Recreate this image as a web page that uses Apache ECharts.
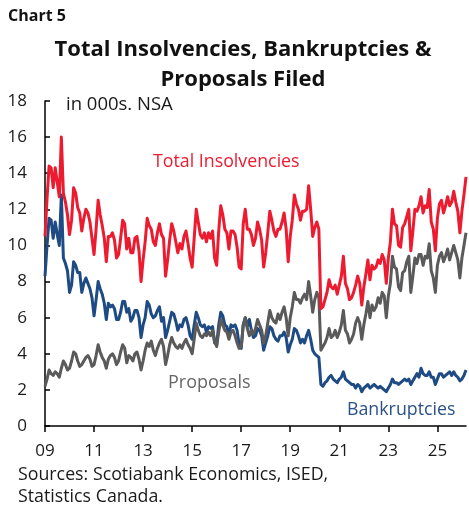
<!DOCTYPE html>
<html>
<head>
<meta charset="utf-8">
<title>Total Insolvencies, Bankruptcies &amp; Proposals Filed</title>
<script src="https://cdn.jsdelivr.net/npm/echarts@6.0.0/dist/echarts.min.js"></script>
<style>
  html, body { margin: 0; padding: 0; background: #ffffff; }
  #chart { width: 469px; height: 510px; }
</style>
</head>
<body>
<div id="chart"></div>
<script>
// Monthly series, thousands of filings, not seasonally adjusted.
// One row per calendar year (Jan..Dec), starting January 2009.
const START_YEAR = 2009;

const totalInsolvencies = [
  10.5, 12.6, 14.4, 14.3, 13.2, 14.3, 13.5, 12.7, 16.0, 12.9, 12.4, 11.7,
  10.6, 11.4, 13.2, 12.9, 12.1, 11.8, 10.8, 11.5, 12.0, 11.8, 11.3, 10.4,
  9.5, 10.9, 12.5, 11.7, 11.1, 10.4, 9.1, 10.5, 10.5, 10.7, 10.3, 9.3,
  9.5, 10.4, 11.4, 11.2, 9.8, 10.4, 9.6, 9.6, 10.4, 10.5, 9.7, 8.0,
  9.2, 10.2, 11.5, 11.1, 10.9, 10.2, 10.0, 10.7, 11.2, 10.6, 10.4, 8.3,
  9.2, 10.3, 11.2, 10.8, 10.2, 9.6, 10.1, 9.8, 10.5, 10.8, 10.1, 9.3,
  8.8, 10.4, 12.0, 11.3, 10.6, 10.4, 10.7, 10.2, 10.7, 10.4, 10.8, 9.3,
  8.9, 10.8, 12.2, 11.7, 10.9, 10.7, 9.8, 10.8, 10.8, 10.6, 9.9, 8.8,
  8.7, 11.2, 12.0, 10.9, 10.9, 10.6, 10.0, 10.4, 11.3, 10.9, 10.3, 8.8,
  9.6, 10.7, 11.9, 11.4, 10.8, 10.5, 10.9, 10.9, 11.3, 11.8, 10.9, 9.1,
  10.5, 11.4, 12.8, 12.3, 12.0, 11.4, 11.9, 11.9, 12.0, 13.3, 12.0, 10.5,
  11.0, 11.3, 10.9, 6.5, 6.6, 7.0, 7.4, 8.1, 7.7, 7.6, 7.8, 7.3,
  7.8, 8.3, 9.4, 7.9, 7.6, 7.0, 7.1, 7.4, 7.8, 8.3, 7.9, 6.7,
  7.7, 8.4, 9.2, 8.1, 8.9, 8.7, 8.8, 9.2, 9.0, 9.5, 9.2, 7.9,
  9.3, 10.2, 12.0, 11.2, 11.1, 10.0, 9.9, 11.0, 11.2, 11.6, 12.0, 9.7,
  10.8, 12.0, 11.9, 12.2, 12.7, 11.8, 12.2, 12.1, 13.1, 11.3, 10.9, 9.7,
  11.5, 12.3, 12.5, 11.8, 12.2, 12.7, 12.2, 12.4, 13.0, 12.4, 11.9, 10.7,
  11.9, 12.8, 13.8
];

const bankruptcies = [
  8.3, 10.0, 11.5, 11.4, 10.4, 11.3, 10.6, 10.0, 12.8, 9.3, 9.0, 8.6,
  7.4, 7.8, 9.1, 8.9, 8.5, 8.5, 7.4, 7.9, 8.2, 7.9, 7.6, 7.1,
  6.1, 7.0, 8.0, 7.6, 7.3, 6.8, 5.9, 6.8, 6.6, 6.7, 6.5, 5.9,
  5.9, 6.3, 6.9, 6.9, 6.3, 6.5, 5.8, 6.0, 6.4, 6.4, 6.0, 4.9,
  5.6, 6.0, 6.9, 6.7, 6.2, 6.0, 6.1, 6.4, 6.6, 5.8, 6.0, 4.9,
  5.3, 5.8, 6.3, 6.2, 5.8, 5.3, 5.6, 5.5, 5.9, 6.0, 5.6, 5.0,
  4.8, 5.6, 6.3, 6.0, 5.6, 5.5, 5.6, 5.2, 5.5, 5.4, 5.5, 4.6,
  4.5, 5.6, 6.3, 6.1, 5.6, 5.5, 5.0, 5.6, 5.5, 5.6, 5.3, 4.5,
  4.3, 5.6, 6.0, 5.5, 5.9, 5.3, 4.9, 5.0, 5.4, 5.3, 5.0, 4.2,
  4.6, 5.0, 5.5, 5.4, 5.0, 4.8, 4.7, 5.0, 5.0, 5.2, 4.9, 4.1,
  4.5, 4.8, 5.4, 5.3, 5.0, 4.6, 4.8, 4.6, 5.0, 5.3, 4.8, 4.2,
  4.0, 3.9, 3.8, 2.3, 2.2, 2.4, 2.5, 2.7, 2.8, 2.6, 2.5, 2.4,
  2.6, 2.7, 3.0, 2.6, 2.5, 2.4, 2.3, 2.3, 2.1, 2.3, 2.2, 1.9,
  2.1, 2.2, 2.3, 2.1, 2.2, 2.3, 2.2, 2.1, 2.2, 2.1, 2.0, 1.9,
  2.1, 2.3, 2.6, 2.4, 2.4, 2.3, 2.4, 2.5, 2.6, 2.5, 2.6, 2.3,
  2.5, 2.7, 2.9, 2.7, 3.2, 2.9, 2.8, 2.8, 3.0, 2.7, 2.7, 2.3,
  2.6, 2.9, 2.9, 2.7, 2.8, 2.9, 3.0, 2.8, 3.0, 2.8, 2.7, 2.5,
  2.6, 2.8, 3.1
];

const proposals = [
  2.2, 2.6, 3.1, 2.9, 2.8, 3.0, 2.9, 2.7, 3.2, 3.6, 3.4, 3.1,
  3.2, 3.6, 4.1, 4.0, 3.6, 3.3, 3.4, 3.6, 3.8, 3.9, 3.7, 3.3,
  3.4, 3.9, 4.5, 4.1, 3.8, 3.6, 3.2, 3.7, 3.9, 4.0, 3.8, 3.4,
  3.6, 4.1, 4.5, 4.3, 3.5, 3.9, 3.8, 3.6, 4.0, 4.1, 3.7, 3.1,
  3.6, 4.2, 4.6, 4.4, 4.7, 4.2, 3.9, 4.3, 4.6, 4.8, 4.4, 3.4,
  3.9, 4.5, 4.9, 4.6, 4.4, 4.3, 4.5, 4.3, 4.6, 4.8, 4.5, 4.3,
  4.0, 4.8, 5.7, 5.3, 5.0, 4.9, 5.1, 5.0, 5.2, 5.0, 5.3, 4.7,
  4.4, 5.2, 5.9, 5.6, 5.3, 5.2, 4.8, 5.2, 5.3, 5.0, 4.6, 4.3,
  4.4, 5.6, 6.0, 5.4, 5.0, 5.3, 5.1, 5.4, 5.9, 5.6, 5.3, 4.6,
  5.0, 5.7, 6.4, 6.0, 5.8, 5.7, 6.2, 5.9, 6.3, 6.6, 6.0, 5.0,
  6.0, 6.6, 7.4, 7.0, 7.0, 6.8, 7.1, 7.3, 7.0, 8.0, 7.2, 6.3,
  7.0, 7.4, 7.1, 4.2, 4.4, 4.6, 4.9, 5.4, 4.9, 5.0, 5.3, 4.9,
  5.2, 5.6, 6.4, 5.3, 5.1, 4.6, 4.8, 5.1, 5.7, 6.0, 5.7, 4.8,
  5.6, 6.2, 6.9, 6.0, 6.7, 6.4, 6.6, 7.1, 6.8, 7.4, 7.2, 6.0,
  7.2, 7.9, 9.4, 8.8, 8.7, 7.7, 7.5, 8.5, 8.6, 9.1, 9.4, 7.4,
  8.3, 9.3, 9.0, 9.5, 9.5, 8.9, 9.4, 9.3, 10.1, 8.6, 8.2, 7.4,
  8.9, 9.4, 9.6, 9.1, 9.4, 9.8, 9.2, 9.6, 10.0, 9.6, 9.2, 8.2,
  9.3, 10.0, 10.7
];

// Month categories "YYYY-MM"; the axis shows a two-digit year every other January.
const months = totalInsolvencies.map((_, i) => {
  const y = START_YEAR + Math.floor(i / 12);
  const m = (i % 12) + 1;
  return y + '-' + String(m).padStart(2, '0');
});
const showYearTick = (index) => index % 24 === 0;

const Y_MIN = 0, Y_MAX = 18, Y_STEP = 2;

const COLORS = {
  total: '#ED1B2F',
  bankrupt: '#1F4B85',
  proposals: '#5A5A5A',
  ink: '#1A1A1A'
};
const FONT = '"Open Sans", "Liberation Sans", sans-serif';

const chart = echarts.init(document.getElementById('chart'), null, { renderer: 'canvas' });

function text(x, y, str, opts) {
  return {
    type: 'text',
    x: x, y: y,
    silent: true,
    style: Object.assign({
      text: str,
      fontFamily: FONT,
      fontSize: 16,
      fill: COLORS.ink,
      textAlign: 'left',
      textVerticalAlign: 'middle'
    }, opts || {})
  };
}

chart.setOption({
  animation: false,
  backgroundColor: '#ffffff',
  grid: { left: 45, right: 3, top: 101, bottom: 84, containLabel: false },
  xAxis: {
    type: 'category',
    data: months,
    boundaryGap: false,
    axisLine: { lineStyle: { color: '#000000', width: 1.5 } },
    axisTick: {
      show: true,
      inside: false,
      length: 6,
      interval: showYearTick,
      lineStyle: { color: '#000000', width: 1.5 }
    },
    axisLabel: {
      interval: showYearTick,
      formatter: (v) => v.slice(2, 4),
      fontFamily: FONT,
      fontSize: 17,
      color: COLORS.ink,
      margin: 17
    },
    splitLine: { show: false }
  },
  yAxis: {
    type: 'value',
    min: Y_MIN,
    max: Y_MAX,
    interval: Y_STEP,
    axisLine: { show: true, lineStyle: { color: '#000000', width: 1.5 } },
    axisTick: { show: true, inside: true, length: 5, lineStyle: { color: '#000000', width: 1.5 } },
    axisLabel: {
      fontFamily: FONT,
      fontSize: 17,
      color: COLORS.ink,
      margin: 18
    },
    splitLine: { show: false }
  },
  series: [
    {
      name: 'Bankruptcies',
      type: 'line',
      data: bankruptcies,
      showSymbol: false,
      lineStyle: { color: COLORS.bankrupt, width: 3, join: 'round' },
      itemStyle: { color: COLORS.bankrupt }
    },
    {
      name: 'Proposals',
      type: 'line',
      data: proposals,
      showSymbol: false,
      lineStyle: { color: COLORS.proposals, width: 3, join: 'round' },
      itemStyle: { color: COLORS.proposals }
    },
    {
      name: 'Total Insolvencies',
      type: 'line',
      data: totalInsolvencies,
      showSymbol: false,
      lineStyle: { color: COLORS.total, width: 3, join: 'round' },
      itemStyle: { color: COLORS.total }
    }
  ],
  graphic: [
    text(8, 16, 'Chart 5', { fontSize: 16, fontWeight: 'bold', fill: '#111111' }),
    text(243, 50, 'Total Insolvencies, Bankruptcies &', { fontSize: 22, fontWeight: 'bold', fill: '#111111', textAlign: 'center' }),
    text(243, 80, 'Proposals Filed', { fontSize: 22, fontWeight: 'bold', fill: '#111111', textAlign: 'center' }),
    text(66, 105, 'in 000s. NSA', { fontSize: 18.5 }),
    text(153, 162, 'Total Insolvencies', { fontSize: 17.8, fill: COLORS.total }),
    text(168, 383, 'Proposals', { fontSize: 18, fill: '#666666' }),
    text(347, 410, 'Bankruptcies', { fontSize: 17.8, fill: '#2A5189' }),
    text(18, 475, 'Sources: Scotiabank Economics, ISED,', { fontSize: 17.8 }),
    text(18, 497, 'Statistics Canada.', { fontSize: 17.8 })
  ]
});
</script>
</body>
</html>
